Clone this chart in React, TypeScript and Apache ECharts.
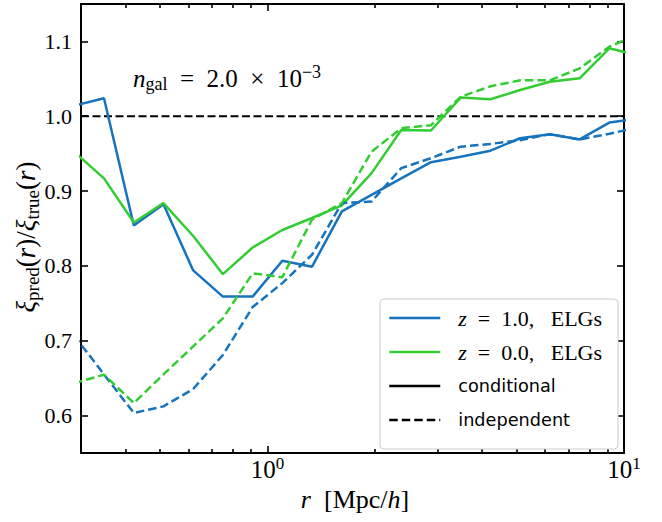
import React, { useEffect, useRef } from "react";
import * as echarts from "echarts";

// Separation r [Mpc/h] of each bin (first and last lie just outside the plotted range)
const rBins = [0.287, 0.348, 0.422, 0.511, 0.619, 0.75, 0.909, 1.101, 1.334, 1.617, 1.959, 2.373, 2.875, 3.483, 4.221, 5.114, 6.196, 7.508, 9.096, 11.02];
// z = 1.0 ELGs
const blueConditional = [1.014, 1.024, 0.854, 0.8825, 0.794, 0.759, 0.759, 0.807, 0.799, 0.873, 0.895, 0.917, 0.9386, 0.946, 0.954, 0.9706, 0.976, 0.969, 0.9915, 0.997];
const blueIndependent = [0.707, 0.655, 0.6035, 0.6123, 0.6355, 0.681, 0.745, 0.777, 0.815, 0.884, 0.886, 0.9306, 0.944, 0.9594, 0.963, 0.968, 0.976, 0.969, 0.9765, 0.9855];
// z = 0.0 ELGs
const greenConditional = [0.9525, 0.917, 0.858, 0.884, 0.84, 0.789, 0.8246, 0.848, 0.864, 0.881, 0.924, 0.9817, 0.981, 1.0249, 1.0227, 1.035, 1.0462, 1.0507, 1.0908, 1.0811];
const greenIndependent = [0.6433, 0.6546, 0.6168, 0.655, 0.6924, 0.73, 0.79, 0.785, 0.862, 0.884, 0.9527, 0.984, 0.988, 1.026, 1.04, 1.048, 1.048, 1.064, 1.093, 1.11];

const referenceLevel = 1.0;
const xRange = [0.3, 10];
const yRange = [0.55, 1.15];
const yTicks = [0.6, 0.7, 0.8, 0.9, 1.0, 1.1];
const xMajorTicks = [1, 10];
const xMinorTicks = [0.4, 0.5, 0.6, 0.7, 0.8, 0.9, 2, 3, 4, 5, 6, 7, 8, 9];

const BLUE = "#1673bd";
const GREEN = "#33cc33";
const SERIF = "Liberation Serif";
const SANS = "DejaVu Sans";

const pairs = (ys: number[]) => rBins.map((r, i) => [r, ys[i]]);

function mathRich(size: number, subSize: number) {
  const lh = Math.round(size * 1.2);
  return {
    mi: { fontFamily: SERIF, fontStyle: "italic", fontSize: size, lineHeight: lh, color: "#000" },
    mr: { fontFamily: SERIF, fontSize: size, lineHeight: lh, color: "#000" },
    sub: { fontFamily: SERIF, fontSize: subSize, lineHeight: Math.round(lh * 0.5), verticalAlign: "bottom", color: "#000" },
    sup: { fontFamily: SERIF, fontSize: subSize, lineHeight: Math.round(lh * 0.42), verticalAlign: "top", color: "#000" },
  };
}

const tickRich = {
  tr: { fontFamily: SERIF, fontSize: 25, lineHeight: 28, color: "#000" },
  tsup: { fontFamily: SERIF, fontSize: 17, lineHeight: 12, verticalAlign: "top", color: "#000" },
};

const LEG_LH = 20;
const legendRich = {
  sp: { width: 13, fontFamily: SERIF, fontSize: 22, lineHeight: LEG_LH },
  mi: { fontFamily: SERIF, fontStyle: "italic", fontSize: 22, lineHeight: LEG_LH, color: "#000" },
  mr: { fontFamily: SERIF, fontSize: 22, lineHeight: LEG_LH, color: "#000" },
  sans: { fontFamily: SANS, fontSize: 17.7, lineHeight: LEG_LH, color: "#000" },
};

const legendLabels: Record<string, string> = {
  z1: "{sp| }{mi|z}{mr|\u2002=\u20021.0,\u2002\u2005ELGs}",
  z0: "{sp| }{mi|z}{mr|\u2002=\u20020.0,\u2002\u2005ELGs}",
  conditional: "{sp| }{sans|conditional}",
  independent: "{sp| }{sans|independent}",
};

const DASH = [8.5, 4];
const LW = 2.5;

function makeXAxis(position: "bottom" | "top", major: boolean) {
  return {
    type: "log",
    logBase: 10,
    min: xRange[0],
    max: xRange[1],
    position,
    splitLine: { show: false },
    minorTick: { show: false },
    axisLine: { show: major, onZero: false, lineStyle: { color: "#000", width: 2 } },
    axisTick: {
      show: true,
      inside: true,
      length: major ? 7 : 4,
      customValues: major ? xMajorTicks : xMinorTicks,
      lineStyle: { color: "#000", width: 1.6 },
    },
    axisLabel:
      major && position === "bottom"
        ? {
            show: true,
            customValues: xMajorTicks,
            margin: 2,
            formatter: (v: number) => `{tr|10}{tsup|${Math.round(Math.log10(v))}}`,
            rich: tickRich,
          }
        : { show: false },
  };
}

function makeYAxis(position: "left" | "right") {
  return {
    type: "value",
    min: yRange[0],
    max: yRange[1],
    position,
    splitLine: { show: false },
    axisLine: { show: true, onZero: false, lineStyle: { color: "#000", width: 2 } },
    axisTick: { show: true, inside: true, length: 7, customValues: yTicks, lineStyle: { color: "#000", width: 1.6 } },
    axisLabel:
      position === "left"
        ? {
            show: true,
            customValues: yTicks,
            margin: 9,
            formatter: (v: number) => v.toFixed(1),
            fontFamily: SERIF,
            fontSize: 22,
            color: "#000",
          }
        : { show: false },
  };
}

function lineSeries(name: string, ys: number[], color: string, dashed: boolean) {
  return {
    name,
    type: "line",
    data: pairs(ys),
    xAxisIndex: 0,
    yAxisIndex: 0,
    symbol: "none",
    clip: true,
    lineStyle: { color, width: LW, type: dashed ? DASH : "solid" },
    itemStyle: { color },
  };
}

export default function App() {
  const ref = useRef<HTMLDivElement>(null);
  useEffect(() => {
    if (!ref.current) return;
    const chart = echarts.init(ref.current, undefined, { renderer: "svg" });
    const option = {
      animation: false,
      backgroundColor: "#fff",
      grid: { left: 81, right: 38, top: 4, bottom: 69, containLabel: false, outerBoundsMode: "none" },
      xAxis: [makeXAxis("bottom", true), makeXAxis("bottom", false), makeXAxis("top", true), makeXAxis("top", false)],
      yAxis: [makeYAxis("left"), makeYAxis("right")],
      legend: {
        data: ["z1", "z0", "conditional", "independent"],
        orient: "vertical",
        left: 380,
        top: 299,
        itemWidth: 51,
        itemHeight: 14,
        itemGap: 12,
        padding: [8, 16, 18, 8],
        backgroundColor: "#fff",
        borderColor: "#cccccc",
        borderWidth: 1,
        borderRadius: 4,
        selectedMode: false,
        itemStyle: { opacity: 0 },
        lineStyle: { width: LW },
        formatter: (name: string) => legendLabels[name] || name,
        textStyle: { color: "#000", rich: legendRich },
      },
      series: [
        {
          name: "reference",
          type: "line",
          data: [
            [xRange[0], referenceLevel],
            [xRange[1], referenceLevel],
          ],
          symbol: "none",
          lineStyle: { color: "#000", width: 2.2, type: [8, 3.5] },
          z: 1,
        },
        lineSeries("z1", blueConditional, BLUE, false),
        lineSeries("z0", greenConditional, GREEN, false),
        lineSeries("z1 independent", blueIndependent, BLUE, true),
        lineSeries("z0 independent", greenIndependent, GREEN, true),
        lineSeries("conditional", [], "#000", false),
        lineSeries("independent", [], "#000", true),
      ],
      graphic: [
        {
          type: "text",
          x: 133,
          y: 78,
          style: {
            text: "{mi|n}{sub|gal}{mr|\u2002=\u20022.0\u2002×\u200210}{sup|−3}",
            rich: mathRich(25, 18),
            align: "left",
            verticalAlign: "middle",
          },
        },
        {
          type: "text",
          x: 355,
          y: 499,
          style: {
            text: "{mi|r}{mr|\u2002[Mpc/}{mi|h}{mr|]}",
            rich: mathRich(26, 18),
            align: "center",
            verticalAlign: "middle",
          },
        },
        {
          type: "text",
          x: 26,
          y: 237,
          rotation: Math.PI / 2,
          style: {
            text: "{mi|ξ}{sub|pred}{mr|(}{mi|r}{mr|)/}{mi|ξ}{sub|true}{mr|(}{mi|r}{mr|)}",
            rich: mathRich(27, 19),
            align: "center",
            verticalAlign: "middle",
          },
        },
      ],
    };
    chart.setOption(option as any);
    return () => chart.dispose();
  }, []);
  return <div ref={ref} style={{ position: "fixed", left: 0, top: 0, width: 662, height: 522 }} />;
}
